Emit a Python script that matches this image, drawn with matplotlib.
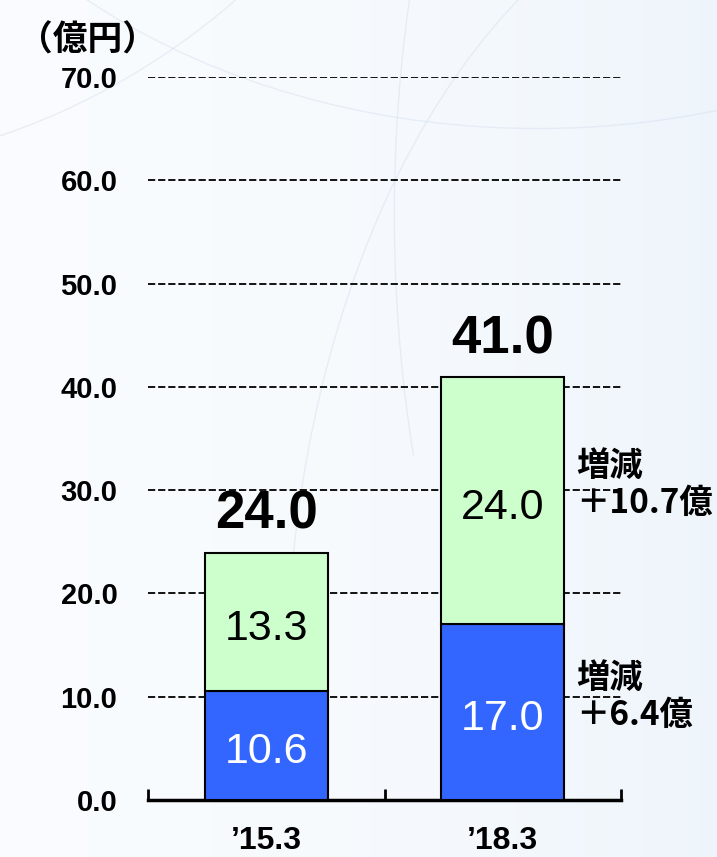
import matplotlib.pyplot as plt
import numpy as np
from matplotlib.patches import Arc

plt.rcParams['font.family'] = ['Liberation Sans', 'DejaVu Sans']
cjk = ['Noto Sans CJK JP', 'DejaVu Sans']

# data
periods = ['’15.3', '’18.3']
lower = [10.6, 17.0]
upper = [13.3, 24.0]
totals = [24.0, 41.0]
yticks = [0, 10, 20, 30, 40, 50, 60, 70]
notes = ['増減\n＋6.4億', '増減\n＋10.7億']

fig = plt.figure(figsize=(7.17, 8.57), dpi=100)

# faint background with arcs
bg = fig.add_axes([0, 0, 1, 1], zorder=-5)
grad = np.linspace(0, 1, 256)[None, :] ** 2
bg.imshow(grad, extent=[0, 1, 0, 1], aspect='auto', cmap='Blues', vmin=-0.2, vmax=9, alpha=0.5)
for (cx, cy, w, h, t1, t2) in [(0.75, 1.45, 1.9, 1.2, 190, 350), (1.35, 0.75, 1.6, 2.2, 95, 200),
                               (1.1, 0.2, 1.4, 1.9, 100, 185), (-0.3, 1.7, 2.0, 1.8, 280, 330)]:
    bg.add_patch(Arc((cx, cy), w, h, theta1=t1, theta2=t2, color='#d3deee', lw=1.0, alpha=0.45))
bg.set_xlim(0, 1)
bg.set_ylim(0, 1)
bg.axis('off')

ax = fig.add_axes([148 / 717, 57 / 857, 473 / 717, 723 / 857])
ax.patch.set_alpha(0)
x = np.arange(len(periods))

ax.bar(x, lower, width=0.52, color='#3366ff', edgecolor='black', linewidth=1.5, zorder=3)
ax.bar(x, upper, width=0.52, bottom=lower, color='#ccffcc', edgecolor='black', linewidth=1.5, zorder=3)

for xi, lo, up, tot in zip(x, lower, upper, totals):
    ax.text(xi, lo / 2 - 0.7, f'{lo:.1f}', ha='center', va='center', fontsize=31, color='white', zorder=4)
    ax.text(xi, lo + up / 2 - 0.7, f'{up:.1f}', ha='center', va='center', fontsize=31, color='black', zorder=4)
    ax.text(xi, tot + 1.2, f'{tot:.1f}', ha='center', va='bottom', fontsize=38, fontweight='bold')

# change annotations next to the second bar
ax.text(1.31, lower[1] / 2 + 1.5, notes[0], ha='left', va='center', fontsize=24,
        family=cjk, fontweight='bold', linespacing=1.15)
ax.text(1.31, lower[1] + upper[1] / 2 + 1.5, notes[1], ha='left', va='center', fontsize=24,
        family=cjk, fontweight='bold', linespacing=1.15)

for yv in yticks[1:]:
    ax.axhline(yv, color='black', lw=1.3, linestyle=(0, (4, 1.6)), zorder=1)

ax.set_xlim(-0.5, 1.5)
ax.set_ylim(0, 70)
ax.set_yticks(yticks)
ax.set_yticklabels([f'{v:.1f}' for v in yticks], fontsize=21, fontweight='bold')
ax.tick_params(axis='y', length=0, pad=22)

ax.set_xticks(x)
ax.set_xticklabels(periods, fontsize=23, fontweight='bold')
ax.tick_params(axis='x', which='major', length=0, pad=19)
ax.set_xticks([-0.5, 0.5, 1.5], minor=True)
ax.tick_params(axis='x', which='minor', direction='in', length=8, width=2)

for s in ['top', 'right', 'left']:
    ax.spines[s].set_visible(False)
ax.spines['bottom'].set_linewidth(2.5)

fig.text(18 / 717, 1 - 40 / 857, '（億円）', ha='left', va='center', fontsize=25,
         family=cjk, fontweight='bold')

fig.savefig('out.png', dpi=100)
